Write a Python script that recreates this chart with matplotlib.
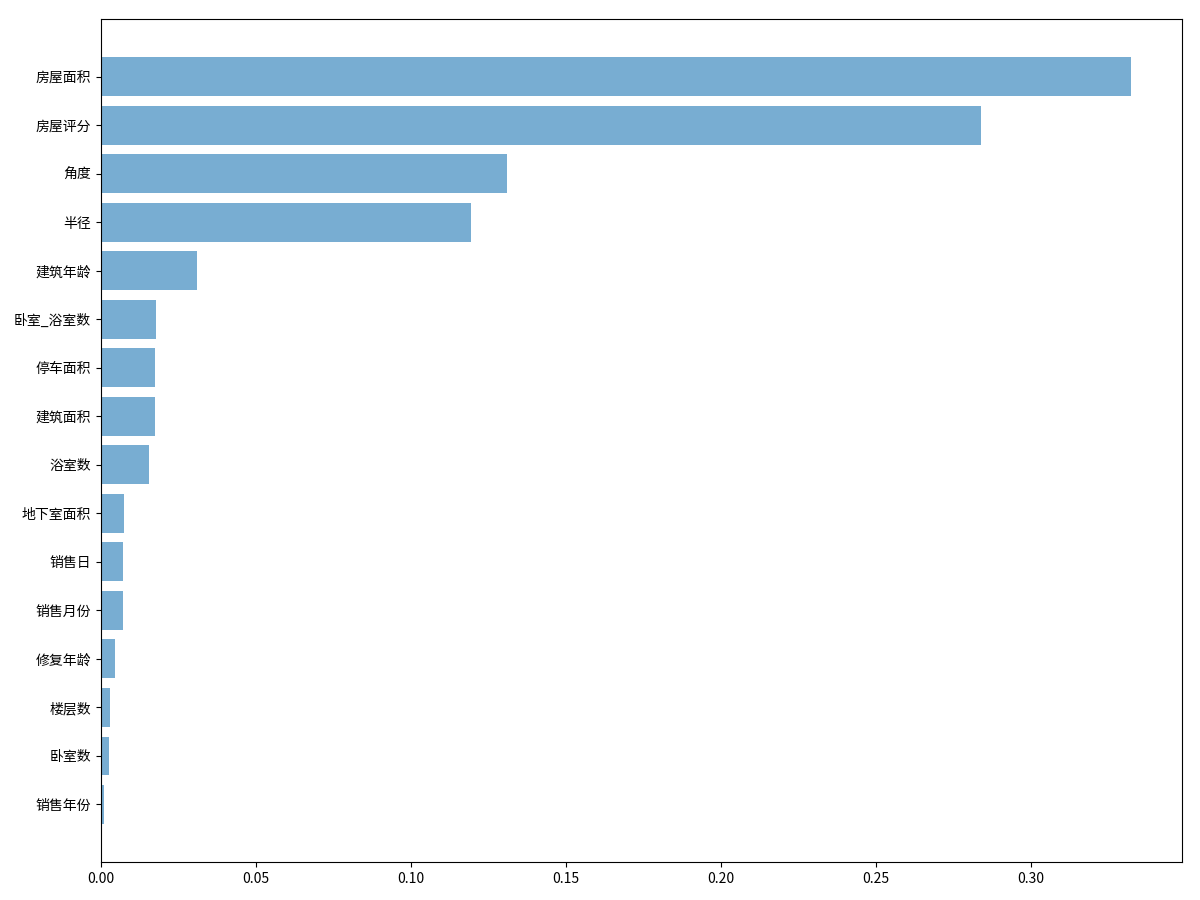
import matplotlib.pyplot as plt

plt.rcParams['font.family'] = ['Noto Sans CJK SC', 'DejaVu Sans']
plt.rcParams['axes.unicode_minus'] = False

# feature importances, smallest first (barh draws bottom-up)
features = ["销售年份", "卧室数", "楼层数", "修复年龄", "销售月份", "销售日",
            "地下室面积", "浴室数", "建筑面积", "停车面积", "卧室_浴室数",
            "建筑年龄", "半径", "角度", "房屋评分", "房屋面积"]
importances = [0.0010, 0.0025, 0.0031, 0.0047, 0.0070, 0.0070,
               0.0076, 0.0157, 0.0176, 0.0176, 0.0177,
               0.0309, 0.1194, 0.1311, 0.2839, 0.3321]


def main():
    fig, ax = plt.subplots(figsize=(12, 9), dpi=100)
    ax.barh(features, importances, alpha=0.6)
    fig.subplots_adjust(left=0.084, right=0.985, top=0.979, bottom=0.042)
    fig.savefig("out.png")


if __name__ == "__main__":
    main()
